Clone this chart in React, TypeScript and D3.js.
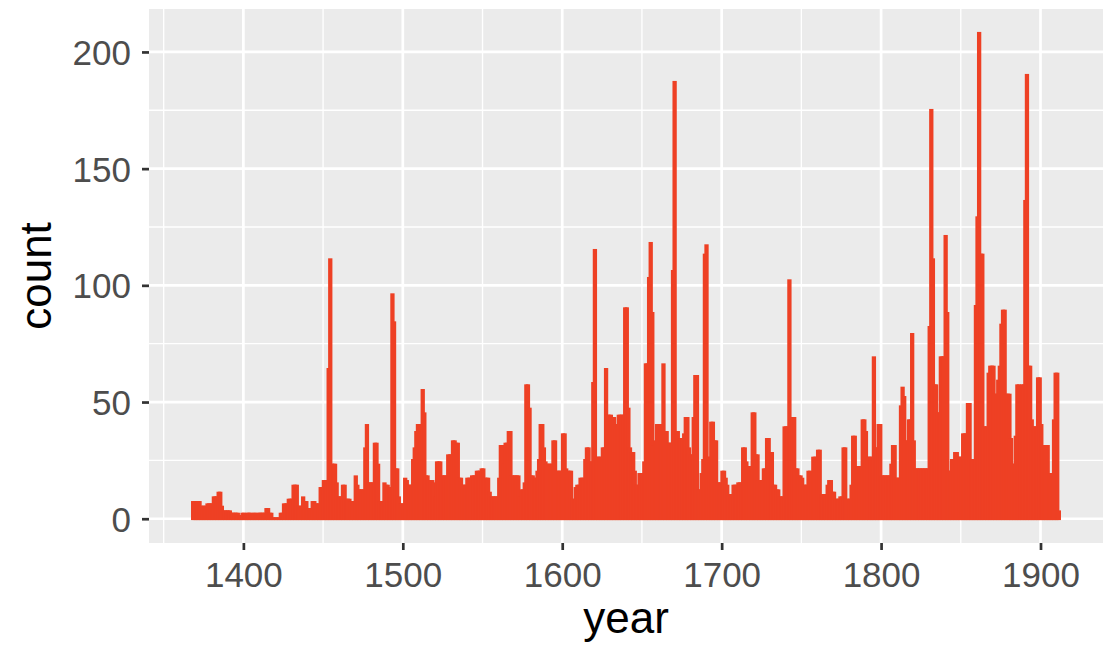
import { useEffect, useRef } from 'react';
import * as d3 from 'd3';

// yearly counts, one bar per year starting at firstYear (bins are [year, year + 1))
const firstYear = 1368;
const counts: number[] = [
  // 1368-1369
  7, 7,
  // 1370s
  7, 7, 7, 5, 5, 5, 5, 6, 6, 6,
  // 1380s
  6, 9, 9, 9, 11, 11, 5, 3, 3, 3,
  // 1390s
  3, 3, 2, 2, 2, 2, 2, 1, 1, 2,
  // 1400s
  2, 1, 2, 2, 2, 1, 2, 2, 1, 2,
  // 1410s
  2, 2, 2, 2, 4, 4, 2, 2, 0, 0,
  // 1420s
  0, 0, 0, 2, 2, 6, 6, 6, 8, 8,
  // 1430s
  8, 14, 14, 14, 5, 5, 5, 9, 7, 7,
  // 1440s
  4, 4, 4, 7, 7, 6, 6, 6, 13, 13,
  // 1450s
  16, 16, 16, 64, 111, 23, 23, 23, 15, 9,
  // 1460s
  9, 9, 14, 14, 8, 8, 8, 7, 7, 7,
  // 1470s
  18, 14, 12, 12, 12, 12, 30, 40, 15, 15,
  // 1480s
  15, 15, 32, 32, 23, 7, 7, 7, 15, 14,
  // 1490s
  14, 13, 13, 96, 84, 21, 21, 9, 6, 6,
  // 1500s
  6, 17, 16, 14, 14, 14, 25, 30, 37, 40,
  // 1510s
  40, 40, 55, 45, 18, 18, 16, 16, 16, 15,
  // 1520s
  9, 24, 24, 24, 18, 18, 18, 18, 27, 27,
  // 1530s
  27, 33, 33, 32, 32, 17, 17, 14, 14, 14,
  // 1540s
  17, 17, 17, 18, 18, 18, 20, 20, 20, 21,
  // 1550s
  21, 17, 17, 17, 11, 9, 9, 9, 9, 9,
  // 1560s
  17, 31, 31, 23, 32, 32, 37, 37, 18, 18,
  // 1570s
  18, 18, 18, 9, 12, 12, 15, 57, 57, 47,
  // 1580s
  18, 18, 17, 17, 20, 25, 40, 40, 30, 24,
  // 1590s
  23, 23, 23, 23, 33, 33, 20, 20, 20, 20,
  // 1600s
  36, 36, 21, 20, 20, 20, 8, 8, 13, 14,
  // 1610s
  14, 17, 17, 17, 25, 30, 30, 24, 24, 58,
  // 1620s
  115, 26, 26, 26, 26, 30, 30, 64, 44, 44,
  // 1630s
  44, 43, 43, 40, 40, 44, 44, 44, 44, 90,
  // 1640s
  90, 47, 30, 28, 28, 20, 14, 14, 19, 19,
  // 1650s
  19, 24, 66, 66, 103, 118, 88, 31, 33, 40,
  // 1660s
  40, 40, 40, 66, 37, 37, 32, 32, 32, 106,
  // 1670s
  187, 37, 37, 34, 34, 34, 36, 43, 43, 30,
  // 1680s
  27, 27, 43, 61, 61, 12, 12, 19, 25, 113,
  // 1690s
  117, 26, 26, 41, 41, 33, 33, 15, 15, 15,
  // 1700s
  20, 20, 17, 14, 10, 10, 10, 14, 14, 14,
  // 1710s
  15, 15, 15, 30, 30, 24, 22, 22, 22, 45,
  // 1720s
  45, 27, 27, 16, 16, 16, 21, 21, 34, 34,
  // 1730s
  28, 28, 14, 14, 12, 12, 9, 9, 9, 39,
  // 1740s
  39, 39, 102, 43, 43, 43, 21, 21, 18, 18,
  // 1750s
  17, 14, 14, 14, 20, 20, 18, 26, 26, 26,
  // 1760s
  29, 29, 10, 10, 10, 10, 14, 16, 16, 11,
  // 1770s
  11, 8, 8, 8, 9, 9, 30, 30, 8, 8,
  // 1780s
  8, 14, 35, 35, 22, 22, 22, 22, 42, 42,
  // 1790s
  37, 26, 26, 26, 26, 69, 30, 30, 40, 40,
  // 1800s
  18, 18, 18, 18, 18, 18, 23, 31, 31, 17,
  // 1810s
  17, 17, 48, 56, 52, 33, 33, 42, 42, 79,
  // 1820s
  33, 21, 21, 21, 21, 21, 21, 21, 21, 21,
  // 1830s
  82, 175, 111, 57, 57, 45, 45, 69, 69, 69,
  // 1840s
  121, 88, 20, 20, 25, 25, 28, 28, 26, 26,
  // 1850s
  26, 36, 36, 36, 49, 49, 25, 25, 25, 91,
  // 1860s
  129, 208, 113, 113, 39, 39, 39, 62, 65, 65,
  // 1870s
  65, 53, 53, 59, 65, 83, 89, 89, 53, 53,
  // 1880s
  53, 34, 23, 23, 35, 57, 57, 38, 57, 57,
  // 1890s
  136, 190, 65, 65, 42, 39, 39, 39, 60, 60,
  // 1900s
  40, 30, 31, 31, 31, 19, 19, 19, 42, 62,
  // 1910s
  62, 3,
];

const xTicks = [1400, 1500, 1600, 1700, 1800, 1900];
const xMinor = [1350, 1450, 1550, 1650, 1750, 1850];
const yTicks = [0, 50, 100, 150, 200];
const yMinor = [25, 75, 125, 175];

export default function App() {
  const svgRef = useRef<SVGSVGElement | null>(null);

  useEffect(() => {
    if (!svgRef.current) return;
    const svg = d3.select(svgRef.current);
    svg.selectAll('*').remove();

    const width = 1110;
    const height = 658;
    const panel = { left: 149, right: 1103, top: 9, bottom: 543 };

    const bins = counts.map((c, i) => ({ year: firstYear + i, count: c }));
    const xLo = firstYear;
    const xHi = firstYear + counts.length;
    const xPad = (xHi - xLo) * 0.05;
    const yMax = d3.max(counts) ?? 0;
    const yPad = yMax * 0.05;

    const x = d3.scaleLinear().domain([xLo - xPad, xHi + xPad]).range([panel.left, panel.right]);
    const y = d3.scaleLinear().domain([-yPad, yMax + yPad]).range([panel.bottom, panel.top]);

    svg.attr('viewBox', `0 0 ${width} ${height}`);

    // panel background
    svg
      .append('rect')
      .attr('x', panel.left)
      .attr('y', panel.top)
      .attr('width', panel.right - panel.left)
      .attr('height', panel.bottom - panel.top)
      .attr('fill', '#EBEBEB');

    // grid lines
    const grid = svg.append('g');
    grid
      .selectAll('line.xminor')
      .data(xMinor)
      .join('line')
      .attr('x1', (d) => x(d))
      .attr('x2', (d) => x(d))
      .attr('y1', panel.top)
      .attr('y2', panel.bottom)
      .attr('stroke', '#fff')
      .attr('stroke-width', 1.35);
    grid
      .selectAll('line.yminor')
      .data(yMinor)
      .join('line')
      .attr('x1', panel.left)
      .attr('x2', panel.right)
      .attr('y1', (d) => y(d))
      .attr('y2', (d) => y(d))
      .attr('stroke', '#fff')
      .attr('stroke-width', 1.35);
    grid
      .append('g')
      .selectAll('line')
      .data(xTicks)
      .join('line')
      .attr('x1', (d) => x(d))
      .attr('x2', (d) => x(d))
      .attr('y1', panel.top)
      .attr('y2', panel.bottom)
      .attr('stroke', '#fff')
      .attr('stroke-width', 2.7);
    grid
      .append('g')
      .selectAll('line')
      .data(yTicks)
      .join('line')
      .attr('x1', panel.left)
      .attr('x2', panel.right)
      .attr('y1', (d) => y(d))
      .attr('y2', (d) => y(d))
      .attr('stroke', '#fff')
      .attr('stroke-width', 2.7);

    // bars, outlined in the fill colour like geom_histogram(colour = ...)
    // empty years still get a flat outlined bar, so give them a hairline height
    const barColor = '#EE4024';
    svg
      .append('g')
      .selectAll('rect')
      .data(bins)
      .join('rect')
      .attr('x', (d) => x(d.year))
      .attr('width', (d) => x(d.year + 1) - x(d.year))
      .attr('y', (d) => Math.min(y(d.count), y(0) - 0.05))
      .attr('height', (d) => Math.max(y(0) - y(d.count), 0.05))
      .attr('fill', barColor)
      .attr('stroke', barColor)
      .attr('stroke-width', 2.7)
      .append('title')
      .text((d) => `${d.year}: ${d.count}`);

    const font = '"Liberation Sans", Arial, Helvetica, sans-serif';

    // x axis
    const xAxis = svg
      .append('g')
      .attr('transform', `translate(0, ${panel.bottom})`)
      .call(d3.axisBottom(x).tickValues(xTicks).tickSize(7).tickPadding(4).tickFormat((d) => String(d)));
    xAxis.select('.domain').remove();
    xAxis.selectAll('.tick line').attr('stroke', '#333333').attr('stroke-width', 2.7);
    xAxis
      .selectAll('.tick text')
      .attr('fill', '#4D4D4D')
      .attr('y', 44)
      .attr('dy', null)
      .style('font-family', font)
      .style('font-size', '35px');

    // y axis
    const yAxis = svg
      .append('g')
      .attr('transform', `translate(${panel.left}, 0)`)
      .call(d3.axisLeft(y).tickValues(yTicks).tickSize(7).tickPadding(11));
    yAxis.select('.domain').remove();
    yAxis.selectAll('.tick line').attr('stroke', '#333333').attr('stroke-width', 2.7);
    yAxis
      .selectAll('.tick text')
      .attr('fill', '#4D4D4D')
      .attr('dy', '0.36em')
      .style('font-family', font)
      .style('font-size', '35px');

    // axis titles
    svg
      .append('text')
      .attr('x', (panel.left + panel.right) / 2)
      .attr('y', 633)
      .attr('text-anchor', 'middle')
      .attr('fill', '#000')
      .style('font-family', font)
      .style('font-size', '44px')
      .text('year');
    svg
      .append('text')
      .attr('transform', `translate(51, ${(panel.top + panel.bottom) / 2}) rotate(-90)`)
      .attr('text-anchor', 'middle')
      .attr('fill', '#000')
      .style('font-family', font)
      .style('font-size', '44px')
      .text('count');
  }, []);

  return (
    <svg
      ref={svgRef}
      width={1110}
      height={658}
      style={{ position: 'absolute', left: 0, top: 0, background: '#fff' }}
      role="img"
      aria-label="Histogram of count by year"
    />
  );
}
